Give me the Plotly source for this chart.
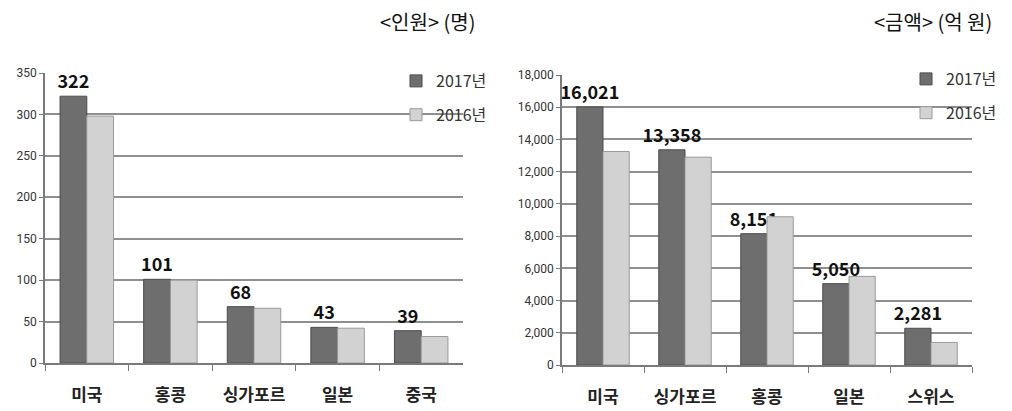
import plotly.graph_objects as go

# ---- data ----
people_categories = ["미국", "홍콩", "싱가포르", "일본", "중국"]
people_2017 = [322, 101, 68, 43, 39]
people_2016 = [298, 100, 66, 42, 32]

amount_categories = ["미국", "싱가포르", "홍콩", "일본", "스위스"]
amount_2017 = [16021, 13358, 8151, 5050, 2281]
amount_2016 = [13250, 12900, 9200, 5500, 1400]

series_names = ["2017년", "2016년"]
people_ticks = [0, 50, 100, 150, 200, 250, 300, 350]
amount_ticks = [0, 2000, 4000, 6000, 8000, 10000, 12000, 14000, 16000, 18000]

# ---- style ----
C17 = "#6e6e6e"
C17_LINE = "#4d4d4d"
C16 = "#d2d2d2"
C16_LINE = "#9a9a9a"
FONT = "Noto Sans CJK KR"
GRID = "#8f8f8f"

label_font = dict(family=FONT, size=18, color="#111111", weight="bold")

fig = go.Figure()
fig.add_trace(go.Bar(
    x=people_categories, y=people_2017, name=series_names[0],
    marker=dict(color=C17, line=dict(color=C17_LINE, width=1)),
    texttemplate="%{y}", textposition="outside", cliponaxis=False,
    constraintext="none", textfont=label_font,
    xaxis="x", yaxis="y", legend="legend", legendgroup="a17",
))
fig.add_trace(go.Bar(
    x=people_categories, y=people_2016, name=series_names[1],
    marker=dict(color=C16, line=dict(color=C16_LINE, width=1)),
    xaxis="x", yaxis="y", legend="legend", legendgroup="a16",
))
fig.add_trace(go.Bar(
    x=amount_categories, y=amount_2017, name=series_names[0],
    marker=dict(color=C17, line=dict(color=C17_LINE, width=1)),
    texttemplate="%{y:,}", textposition="outside", cliponaxis=False,
    constraintext="none", textfont=label_font,
    xaxis="x2", yaxis="y2", legend="legend2", legendgroup="b17",
))
fig.add_trace(go.Bar(
    x=amount_categories, y=amount_2016, name=series_names[1],
    marker=dict(color=C16, line=dict(color=C16_LINE, width=1)),
    xaxis="x2", yaxis="y2", legend="legend2", legendgroup="b16",
))

# page body has an 8px margin: lay out in window pixels, shifted by OFF
OFF = 8
W, H = 1012 - OFF, 411 - OFF

def px_x(x):
    return (x - OFF) / W

def px_y(y):
    return (H - (y - OFF)) / H

def xd(a, b):
    return [px_x(a), px_x(b)]

def yd(bottom_px, top_px):
    return [px_y(bottom_px), px_y(top_px)]

xaxis_common = dict(
    showline=True, linecolor="#7a7a7a", linewidth=1.5,
    ticks="outside", tickson="boundaries", ticklen=6, tickcolor="#7a7a7a",
    tickfont=dict(family=FONT, size=17, color="#222222", weight="bold"),
    ticklabelstandoff=16,
    showgrid=False, fixedrange=True, automargin=False,
)
yaxis_common = dict(
    showline=True, linecolor="#7a7a7a", linewidth=1.5,
    ticks="outside", ticklen=4, tickcolor="#7a7a7a",
    tickfont=dict(family="Liberation Sans Narrow, Roboto, sans-serif", size=12, color="#333333"),
    showgrid=True, gridcolor=GRID, gridwidth=1.5, zeroline=False, fixedrange=True,
    automargin=False,
)

fig.update_layout(
    width=W, height=H,
    margin=dict(l=0, r=0, t=0, b=0, autoexpand=False),
    paper_bgcolor="white", plot_bgcolor="white",
    barmode="group", bargap=0.36, bargroupgap=0.0,
    font=dict(family=FONT, color="#222222"),
    xaxis=dict(domain=xd(45, 463), anchor="y", **xaxis_common),
    yaxis=dict(domain=yd(363, 73), anchor="x", range=[0, 350],
               tickvals=people_ticks, **yaxis_common),
    xaxis2=dict(domain=xd(562, 972), anchor="y2", **xaxis_common),
    yaxis2=dict(domain=yd(365, 75), anchor="x2", range=[0, 18000],
                tickvals=amount_ticks, tickformat=",", **yaxis_common),
    legend=dict(x=px_x(492), y=px_y(64), xanchor="right", yanchor="top",
                bgcolor="rgba(255,255,255,0)", tracegroupgap=10,
                font=dict(family=FONT, size=16, color="#333333"),
                itemwidth=30),
    legend2=dict(x=px_x(1002), y=px_y(62), xanchor="right", yanchor="top",
                 bgcolor="rgba(255,255,255,0)", tracegroupgap=10,
                 font=dict(family=FONT, size=16, color="#333333"),
                 itemwidth=30),
    annotations=[
        dict(text="&lt;인원&gt; (명)", x=px_x(427), y=px_y(22), xref="paper", yref="paper",
             showarrow=False, xanchor="center", yanchor="middle",
             font=dict(family=FONT, size=20, color="#111111")),
        dict(text="&lt;금액&gt; (억 원)", x=px_x(933), y=px_y(22), xref="paper", yref="paper",
             showarrow=False, xanchor="center", yanchor="middle",
             font=dict(family=FONT, size=20, color="#111111")),
    ],
)

fig.write_html("out.html")
